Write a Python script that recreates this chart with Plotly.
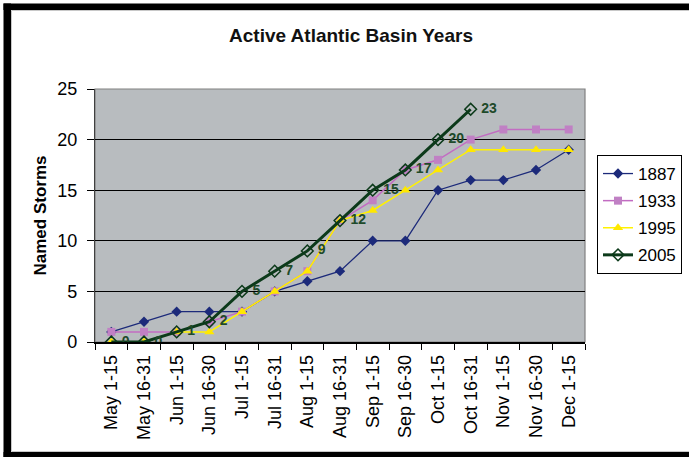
import plotly.graph_objects as go

periods = ["May 1-15", "May 16-31", "Jun 1-15", "Jun 16-30", "Jul 1-15", "Jul 16-31",
           "Aug 1-15", "Aug 16-31", "Sep 1-15", "Sep 16-30", "Oct 1-15", "Oct 16-31",
           "Nov 1-15", "Nov 16-30", "Dec 1-15"]
storms_1887 = [1, 2, 3, 3, 3, 5, 6, 7, 10, 10, 15, 16, 16, 17, 19]
storms_1933 = [1, 1, 1, 2, 3, 5, 7, 12, 14, 17, 18, 20, 21, 21, 21]
storms_1995 = [0, 0, 1, 1, 3, 5, 7, 12, 13, 15, 17, 19, 19, 19, 19]
storms_2005 = [0, 0, 1, 2, 5, 7, 9, 12, 15, 17, 20, 23]
y_ticks = [0, 5, 10, 15, 20, 25]

FONT = "Liberation Sans, Arial, sans-serif"

# plot area in pixels
L, R, T, B = 95, 585, 89, 342
W, H = 689, 457


def px(x):
    return (x - L) / (R - L)


def py(y):
    return (B - y) / (B - T)


fig = go.Figure()
fig.add_trace(go.Scatter(
    x=periods, y=storms_1887, name="1887", mode="lines+markers", legendgroup="a",
    line=dict(color="#1C2A7A", width=1.3),
    marker=dict(symbol="diamond", size=8, color="#1C2A7A")))
fig.add_trace(go.Scatter(
    x=periods, y=storms_1933, name="1933", mode="lines+markers", legendgroup="b",
    line=dict(color="#C26CC2", width=1.5),
    marker=dict(symbol="square", size=8, color="#C080C4")))
fig.add_trace(go.Scatter(
    x=periods, y=storms_1995, name="1995", mode="lines+markers", legendgroup="c",
    line=dict(color="#FFF200", width=1.5),
    marker=dict(symbol="triangle-up", size=9, color="#FFE800")))
fig.add_trace(go.Scatter(
    x=periods[:len(storms_2005)], y=storms_2005, name="2005", mode="lines+markers+text",
    legendgroup="d",
    text=[" " + str(v) for v in storms_2005], textposition="middle right",
    textfont=dict(family=FONT, size=14, color="#1E4A2A", weight="bold"),
    line=dict(color="#0C3A1A", width=3),
    marker=dict(symbol="diamond-open", size=9, color="#0C3A1A", line=dict(width=1.5))))

shapes = [
    # chart frame
    dict(type="rect", xref="paper", yref="paper", x0=px(3.5), x1=px(11), y0=py(460), y1=py(3.5),
         fillcolor="black", line=dict(width=0)),
    dict(type="rect", xref="paper", yref="paper", x0=px(3.5), x1=px(692), y0=py(10), y1=py(3.5),
         fillcolor="black", line=dict(width=0)),
    dict(type="rect", xref="paper", yref="paper", x0=px(3.5), x1=px(692), y0=py(460), y1=py(452),
         fillcolor="black", line=dict(width=0)),
    dict(type="rect", xref="paper", yref="paper", x0=px(11.5), x1=px(695), y0=py(451.5), y1=py(10.5),
         line=dict(color="#C8C8C8", width=1)),
    # plot area border
    dict(type="rect", xref="paper", yref="paper", x0=0, x1=1, y0=0, y1=1,
         line=dict(color="#808080", width=1.2), layer="below"),
]

fig.update_layout(
    width=W, height=H,
    margin=dict(l=L, r=W - R, t=T, b=H - B, autoexpand=False),
    paper_bgcolor="white", plot_bgcolor="#B8BCBF",
    font=dict(family=FONT, color="black"),
    title=dict(text="<b>Active Atlantic Basin Years</b>", x=351 / W, xanchor="center",
               y=1 - 35 / H, yanchor="middle", yref="container",
               font=dict(size=19, family=FONT, color="#111111")),
    showlegend=True,
    legend=dict(x=px(597), y=py(155), xanchor="left", yanchor="top",
                bgcolor="white", bordercolor="black", borderwidth=1,
                font=dict(size=17, family=FONT), tracegroupgap=2,
                itemwidth=30),
    shapes=shapes,
    annotations=[dict(text="<b>Named Storms</b>", xref="paper", yref="paper",
                      x=px(40), y=0.5, textangle=-90, showarrow=False,
                      xanchor="center", yanchor="middle",
                      font=dict(size=17, family=FONT, color="black"))],
)

fig.update_xaxes(
    type="category", categoryorder="array", categoryarray=periods,
    range=[-0.5, len(periods) - 0.5],
    tickangle=-90, tickson="boundaries", ticks="outside", ticklen=6, tickcolor="black",
    tickfont=dict(size=18, family=FONT), ticklabelstandoff=4,
    showline=True, linecolor="black", linewidth=1.5, showgrid=False, zeroline=False,
    automargin=False)
fig.update_yaxes(
    range=[0, 25], tickvals=y_ticks, ticks="outside", ticklen=7, tickcolor="black",
    tickfont=dict(size=18, family=FONT), ticklabelstandoff=6,
    showline=True, linecolor="#404040", linewidth=1.2,
    showgrid=True, gridcolor="black", gridwidth=1.3, zeroline=False,
    automargin=False)

fig.write_html("out.html", config={"displayModeBar": False},
               post_script="document.body.style.margin='0px';document.body.style.overflow='hidden';")
